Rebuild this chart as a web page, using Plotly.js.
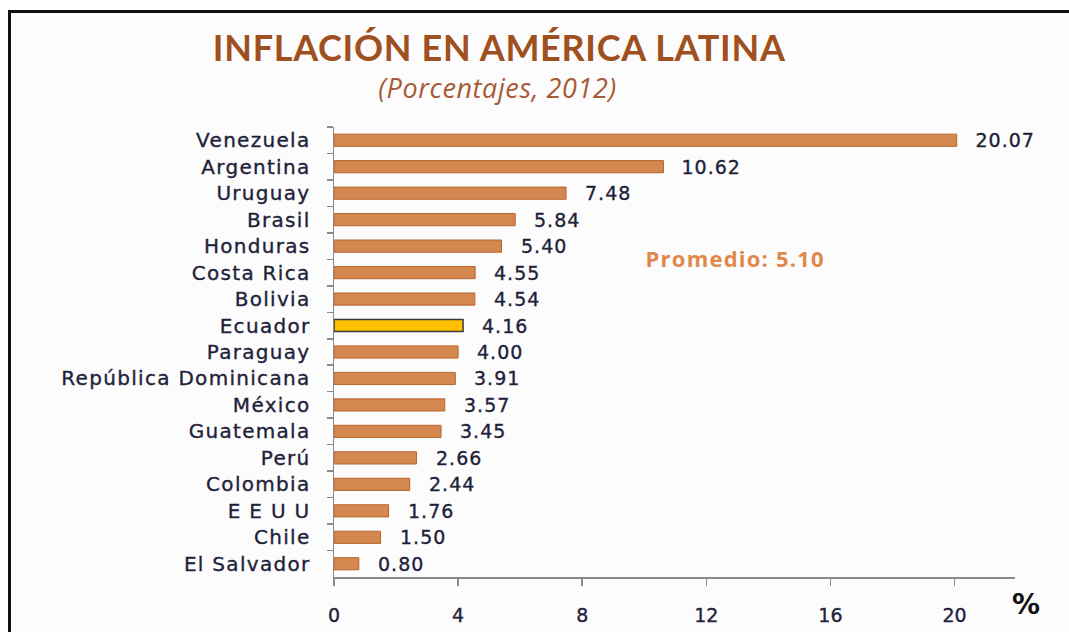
<!DOCTYPE html>
<html>
<head>
<meta charset="utf-8">
<script src="https://cdn.plot.ly/plotly-3.0.1.min.js"></script>
<style>
  html, body { margin: 0; padding: 0; background: #ffffff; }
  #wrap { position: relative; width: 1069px; height: 632px; overflow: hidden; }
  #frame { position: absolute; left: 8px; top: 10px; width: 1200px; height: 800px;
           border-top: 3px solid #111; border-left: 3px solid #111; background: #fcfcfc; }
  #chart { position: absolute; left: 0; top: 0; width: 1069px; height: 632px; }
  #chart .ytick text { letter-spacing: 1.3px; stroke: #221f3a; stroke-width: 0.35px; }
  #chart .xtick text { stroke: #221f3a; stroke-width: 0.35px; }
  #chart .gtitle { letter-spacing: 0.7px; }
</style>
</head>
<body>
<div id="wrap">
  <div id="frame"></div>
  <div id="chart"></div>
</div>
<script>
const countries = ["Venezuela", "Argentina", "Uruguay", "Brasil", "Honduras", "Costa Rica", "Bolivia",
  "Ecuador", "Paraguay", "República Dominicana", "México", "Guatemala", "Perú", "Colombia",
  "E E U U", "Chile", "El Salvador"];
const inflation = [20.07, 10.62, 7.48, 5.84, 5.40, 4.55, 4.54, 4.16, 4.00, 3.91, 3.57, 3.45, 2.66, 2.44, 1.76, 1.50, 0.80];
const highlight = "Ecuador";
const xTicks = [0, 4, 8, 12, 16, 20];
const average = 5.10;

const fillColors = countries.map(c => c === highlight ? "#FFC000" : "#D4874F");
const lineColors = countries.map(c => c === highlight ? "#3a3a3a" : "#B8652F");
const lineWidths = countries.map(c => c === highlight ? 1.5 : 1);

const bars = {
  type: "bar",
  orientation: "h",
  x: inflation,
  y: countries,
  width: 0.46,
  marker: { color: fillColors, line: { color: lineColors, width: lineWidths } },
  hoverinfo: "x+y"
};

const labelFont = { family: "DejaVu Sans, Verdana, sans-serif", size: 20, color: "#221f3a" };
const numberFont = { family: "DejaVu Sans, Verdana, sans-serif", size: 19, color: "#221f3a" };

const annotations = inflation.map((v, i) => ({
  x: v, y: countries[i], xref: "x", yref: "y",
  text: v.toFixed(2), showarrow: false, xanchor: "left", yanchor: "middle",
  xshift: 19, font: numberFont
}));

annotations.push({
  xref: "paper", yref: "paper", x: 0.589, y: 0.709, xanchor: "center", yanchor: "middle",
  text: "<b>Promedio: " + average.toFixed(2) + "</b>", showarrow: false,
  font: { family: "Open Sans, Lato, sans-serif", size: 22, color: "#E0884C" }
});
annotations.push({
  xref: "paper", yref: "paper", x: 0.24, y: 1.087, xanchor: "center", yanchor: "middle",
  text: "<i>(Porcentajes, 2012)</i>", showarrow: false,
  font: { family: "Open Sans, Lato, sans-serif", size: 27, color: "#A85A36" }
});
annotations.push({
  xref: "paper", yref: "paper", x: 0.993, y: -0.062, xanchor: "left", yanchor: "middle",
  text: "<b>%</b>", showarrow: false,
  font: { family: "DejaVu Sans, sans-serif", size: 28, color: "#111" }
});

const layout = {
  width: 1069, height: 632,
  margin: { l: 334, r: 54, t: 127, b: 55 },
  paper_bgcolor: "rgba(0,0,0,0)",
  plot_bgcolor: "rgba(0,0,0,0)",
  showlegend: false,
  title: {
    text: "<b>INFLACIÓN EN AMÉRICA LATINA</b>",
    x: 0.467, xanchor: "center", xref: "container",
    y: 0.924, yanchor: "middle", yref: "container",
    font: { family: "Lato, Open Sans, sans-serif", size: 36, color: "#A0501E" }
  },
  xaxis: {
    range: [0, 21.95],
    tickvals: xTicks,
    ticktext: xTicks.map(String),
    ticks: "outside", ticklen: 7, tickcolor: "#8a8a8a", tickwidth: 1.5,
    showline: true, linecolor: "#8a8a8a", linewidth: 1.5,
    showgrid: false, zeroline: false,
    ticklabelstandoff: 14,
    tickfont: numberFont,
    fixedrange: true
  },
  yaxis: {
    autorange: "reversed",
    type: "category",
    tickson: "boundaries",
    ticks: "outside", ticklen: 6, tickcolor: "#8a8a8a", tickwidth: 1.5,
    showline: true, linecolor: "#8a8a8a", linewidth: 1.5,
    showgrid: false, zeroline: false,
    ticklabelstandoff: 18,
    tickfont: labelFont,
    fixedrange: true
  },
  annotations: annotations
};

Plotly.newPlot("chart", [bars], layout, { displayModeBar: false, staticPlot: true }).then(gd => {
  gd.querySelectorAll("g.annotation").forEach(g => {
    const idx = +g.getAttribute("data-index");
    const t = g.querySelector("text");
    if (!t) return;
    if (idx < countries.length) {
      t.style.letterSpacing = "1px";
      t.style.stroke = "#221f3a";
      t.style.strokeWidth = "0.35px";
    } else if (idx === countries.length) t.style.letterSpacing = "1.2px";
    else if (idx === countries.length + 1) t.style.letterSpacing = "0.6px";
  });
});
</script>
</body>
</html>
